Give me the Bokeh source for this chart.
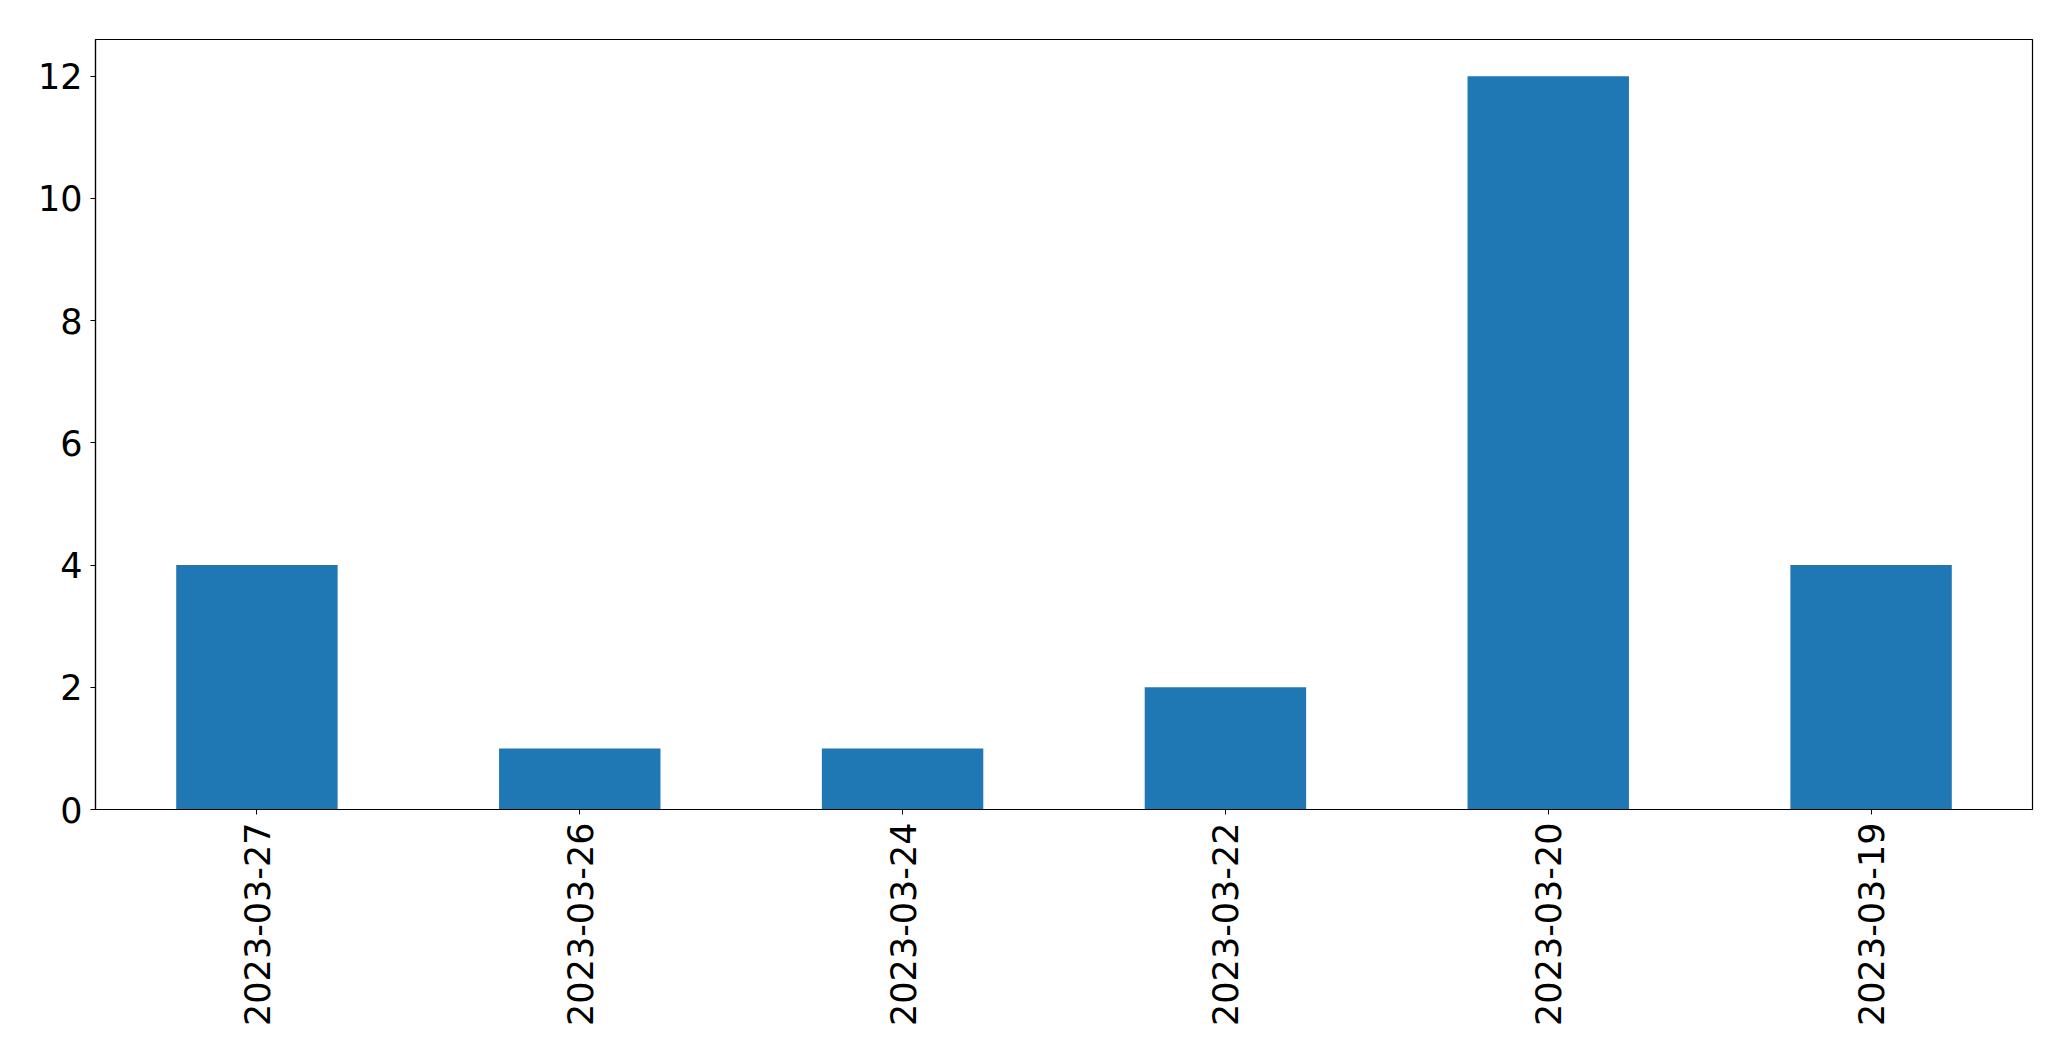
import math
from bokeh.plotting import figure
from bokeh.models import FactorRange, Range1d, FixedTicker, ColumnDataSource
from bokeh.embed import file_html
from bokeh.resources import INLINE

dates = ["2023-03-27", "2023-03-26", "2023-03-24", "2023-03-22", "2023-03-20", "2023-03-19"]
counts = [4, 1, 1, 2, 12, 4]
y_ticks = [0, 2, 4, 6, 8, 10, 12]

src = ColumnDataSource(dict(date=dates, count=counts))

p = figure(width=2055, height=1045, output_backend="svg", toolbar_location=None,
           x_range=FactorRange(factors=dates, range_padding=0),
           y_range=Range1d(0, 12.6),
           min_border_left=95, min_border_right=23, min_border_top=39, min_border_bottom=236)

p.vbar(x="date", top="count", width=0.5, source=src, color="#1f77b4", line_color=None)

p.xgrid.visible = False
p.ygrid.visible = False
p.outline_line_color = "black"
p.outline_line_width = 1.2

p.yaxis.ticker = FixedTicker(ticks=y_ticks)
for ax in (p.xaxis[0], p.yaxis[0]):
    ax.major_label_text_font = "DejaVu Sans"
    ax.major_label_text_font_size = "35px"
    ax.major_label_text_color = "black"
    ax.axis_line_color = "black"
    ax.axis_line_width = 1.2
    ax.major_tick_line_color = "black"
    ax.major_tick_in = 0
    ax.major_tick_out = 5
    ax.minor_tick_line_color = None
    ax.major_label_standoff = 8
p.xaxis.major_label_orientation = math.pi / 2

open("out.html", "w").write(file_html(p, INLINE))
